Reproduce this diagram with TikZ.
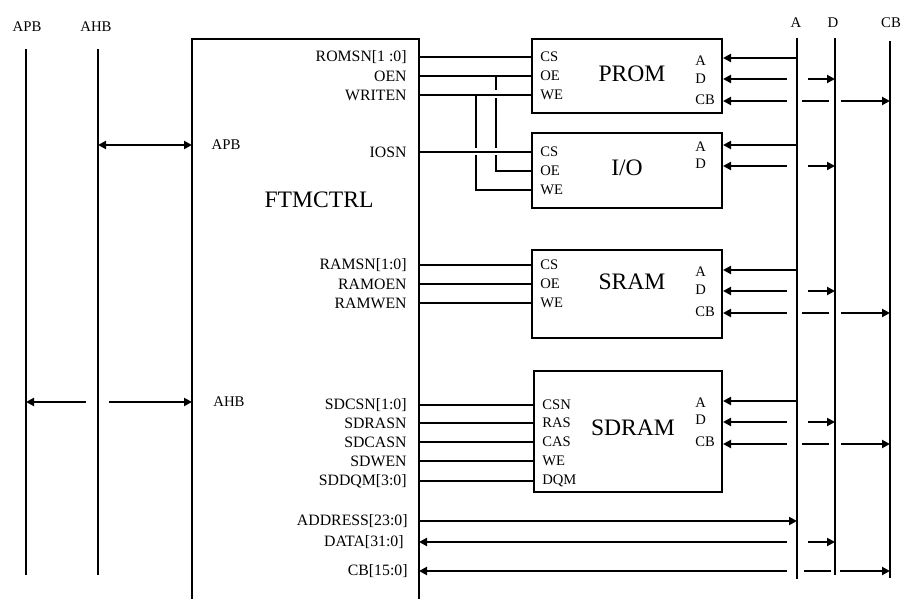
\documentclass[tikz,border=0pt]{standalone}
\usepackage{fontspec}
\setmainfont{Liberation Serif}
\usetikzlibrary{arrows.meta, positioning, calc}
\tikzset{
  wire/.style={line width=1pt},
  busline/.style={line width=1pt},
  membox/.style={draw, line width=1pt, inner sep=0pt},
  tipto/.style={wire, -{Triangle[length=4pt,width=4pt]}},
  tipfrom/.style={wire, {Triangle[length=4pt,width=4pt]}-},
  tipboth/.style={wire, {Triangle[length=4pt,width=4pt]}-{Triangle[length=4pt,width=4pt]}},
  siglabel/.style={font=\fontsize{7.9}{9}\selectfont, anchor=east, inner sep=0pt},
  pinlabel/.style={font=\fontsize{7.3}{8.5}\selectfont, anchor=west, inner sep=0pt},
  buslabel/.style={font=\fontsize{7.4}{9}\selectfont, inner sep=0pt},
  memtitle/.style={font=\fontsize{11.8}{14}\selectfont, inner sep=0pt}
}

\begin{document}
\begin{tikzpicture}[x=0.5pt, y=-0.5pt]
  \useasboundingbox (0,0) rectangle (902,599);

  % AMBA buses on the left
  \node[buslabel] (apblab) at (27,27) {APB};
  \node[buslabel] (ahblab) at (96,27) {AHB};
  \coordinate (apb) at (26,49);
  \coordinate (ahb) at (98,49);
  \draw[busline] (apb) -- (apb |- 0,575);
  \draw[busline] (ahb) -- (ahb |- 0,575);

  % memory buses on the right
  \node[buslabel] (alab) at (796,23) {A};
  \node[buslabel] (dlab) at (833,23) {D};
  \node[buslabel] (cblab) at (891,23) {CB};
  \coordinate (abus) at (797,38);
  \coordinate (dbus) at (835,38);
  \coordinate (cbbus) at (890,41);
  \draw[busline] (abus) -- (abus |- 0,579);
  \draw[busline] (dbus) -- (dbus |- 0,575);
  \draw[busline] (cbbus) -- (cbbus |- 0,578);

  % controller
  \coordinate (ftL) at (192,39);
  \coordinate (ftR) at (419,39);
  \draw[wire] (ftL |- 0,599) -- (ftL) -- (ftR) -- (ftR |- 0,599);
  \node[memtitle] (ftm) at (319,200) {FTMCTRL};
  \node[buslabel] (apbport) at (226,145) {APB};
  \node[buslabel] (ahbport) at (229,402) {AHB};
  \draw[tipboth] (ahb |- apbport) -- (ftL |- apbport);
  \draw[tipfrom, shorten >=6pt] (apb |- ahbport) -- (ahb |- ahbport);
  \draw[tipto, shorten <=5.5pt] (ahb |- ahbport) -- (ftL |- ahbport);

  \node[siglabel] (romsn) at (407,57) {ROMSN[1 :0]};
  \node[siglabel] (oen) at (407,76) {OEN};
  \node[siglabel] (writen) at (407,95) {WRITEN};
  \node[siglabel] (iosn) at (407,152) {IOSN};
  \node[siglabel] (ramsn) at (407,265) {RAMSN[1:0]};
  \node[siglabel] (ramoen) at (407,284) {RAMOEN};
  \node[siglabel] (ramwen) at (407,303) {RAMWEN};
  \node[siglabel] (sdcsn) at (407,405) {SDCSN[1:0]};
  \node[siglabel] (sdrasn) at (407,423) {SDRASN};
  \node[siglabel] (sdcasn) at (407,442) {SDCASN};
  \node[siglabel] (sdwen) at (407,461) {SDWEN};
  \node[siglabel] (sddqm) at (407,481) {SDDQM[3:0]};
  \node[siglabel] (addr) at (408,521) {ADDRESS[23:0]};
  \node[siglabel] (data) at (404,542) {DATA[31:0]};
  \node[siglabel] (cb) at (408,571) {CB[15:0]};

  % memories
  \node[membox, minimum width=95pt, minimum height=37pt] (prom) at (627,76) {};
  \node[membox, minimum width=95pt, minimum height=37.5pt] (io) at (627,170.5) {};
  \node[membox, minimum width=95pt, minimum height=44pt] (sram) at (627,294) {};
  \node[membox, minimum width=94pt, minimum height=60.5pt] (sdram) at (628,431.5) {};
  \node[memtitle] at (632,74) {PROM};
  \node[memtitle] at (627,168) {I/O};
  \node[memtitle] at (632,282) {SRAM};
  \node[memtitle] at (633,428) {SDRAM};

  \node[pinlabel] (promCS) at (540,57) {CS};
  \node[pinlabel] (promOE) at (540,76) {OE};
  \node[pinlabel] (promWE) at (540,95) {WE};
  \node[pinlabel] (ioCS) at (540,152) {CS};
  \node[pinlabel] (ioOE) at (540,171) {OE};
  \node[pinlabel] (ioWE) at (540,190) {WE};
  \node[pinlabel] (sramCS) at (540,265) {CS};
  \node[pinlabel] (sramOE) at (540,284) {OE};
  \node[pinlabel] (sramWE) at (540,303) {WE};
  \node[pinlabel] (sdCSN) at (542,405) {CSN};
  \node[pinlabel] (sdRAS) at (542,423) {RAS};
  \node[pinlabel] (sdCAS) at (542,442) {CAS};
  \node[pinlabel] (sdWE) at (542,461) {WE};
  \node[pinlabel] (sdDQM) at (542,481) {DQM};

  \node[pinlabel] at (695,61) {A};
  \node[pinlabel] at (695,79) {D};
  \node[pinlabel] at (695,100) {CB};
  \node[pinlabel] at (695,147) {A};
  \node[pinlabel] at (695,164) {D};
  \node[pinlabel] at (695,272) {A};
  \node[pinlabel] at (695,290) {D};
  \node[pinlabel] at (695,312) {CB};
  \node[pinlabel] at (695,403) {A};
  \node[pinlabel] at (695,420) {D};
  \node[pinlabel] at (695,442) {CB};

  % control signals
  \draw[wire] (ftR |- promCS) -- (prom.west |- promCS);
  \draw[wire] (ftR |- promOE) -- (prom.west |- promOE);
  \draw[wire] (ftR |- promWE) -- (prom.west |- promWE);
  \draw[wire] (ftR |- ioCS) -- (io.west |- ioCS);
  \coordinate (brOE) at (496,76);
  \coordinate (brWE) at (476,95);
  \draw[wire] (brOE) -- ++(0,14) ++(0,8) -- ++(0,50) ++(0,7) |- (io.west |- ioOE);
  \draw[wire] (brWE) -- ++(0,53) ++(0,7) |- (io.west |- ioWE);
  \foreach \p in {sramCS, sramOE, sramWE}
    \draw[wire] (ftR |- \p) -- (sram.west |- \p);
  \foreach \p in {sdCSN, sdRAS, sdCAS, sdWE, sdDQM}
    \draw[wire] (ftR |- \p) -- (sdram.west |- \p);

  % address, data and checkbits
  \foreach \m/\ya/\yd/\yc in {prom/58/79/101, sram/270/291/313, sdram/401/422/444} {
    \draw[tipto] (abus |- 0,\ya) -- (\m.east |- 0,\ya);
    \draw[tipfrom, shorten >=5pt] (\m.east |- 0,\yd) -- (abus |- 0,\yd);
    \draw[tipto, shorten <=5.5pt] (abus |- 0,\yd) -- (dbus |- 0,\yd);
    \draw[tipfrom, shorten >=5pt] (\m.east |- 0,\yc) -- (abus |- 0,\yc);
    \draw[wire, shorten <=2.5pt, shorten >=3pt] (abus |- 0,\yc) -- (dbus |- 0,\yc);
    \draw[tipto, shorten <=3pt] (dbus |- 0,\yc) -- (cbbus |- 0,\yc);
  }
  \draw[tipto] (abus |- 0,145) -- (io.east |- 0,145);
  \draw[tipfrom, shorten >=5pt] (io.east |- 0,166) -- (abus |- 0,166);
  \draw[tipto, shorten <=5.5pt] (abus |- 0,166) -- (dbus |- 0,166);

  \draw[tipto] (ftR |- addr) -- (abus |- addr);
  \draw[tipfrom, shorten >=5pt] (ftR |- data) -- (abus |- data);
  \draw[tipto, shorten <=5.5pt] (abus |- data) -- (dbus |- data);
  \draw[tipfrom, shorten >=5pt] (ftR |- cb) -- (abus |- cb);
  \draw[wire, shorten <=3.5pt, shorten >=2pt] (abus |- cb) -- (dbus |- cb);
  \draw[tipto, shorten <=2.5pt] (dbus |- cb) -- (cbbus |- cb);
\end{tikzpicture}
\end{document}
